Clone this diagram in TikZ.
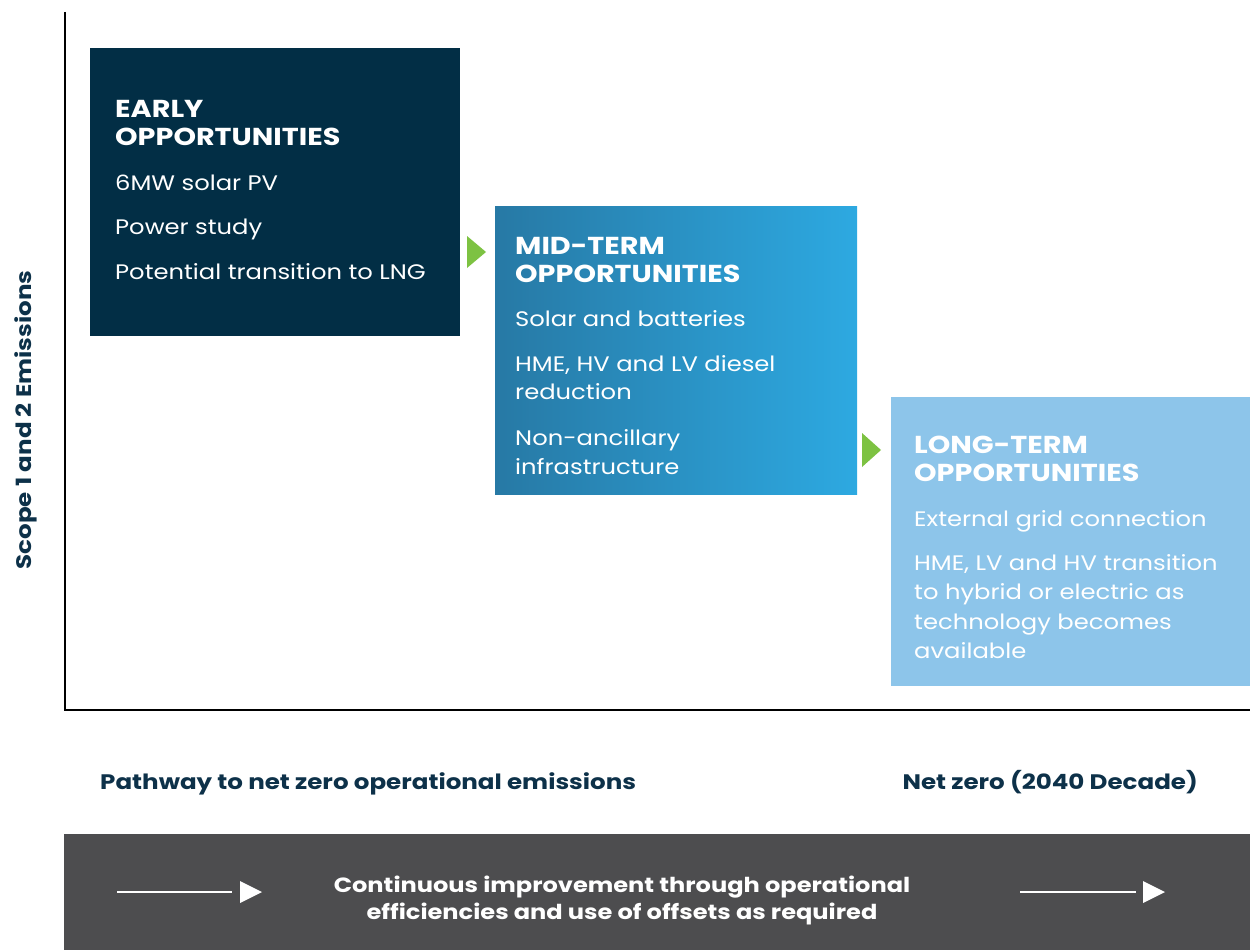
\documentclass[tikz,border=0pt]{standalone}
\usepackage{fontspec}
\setmainfont{Poppins}[FakeStretch=1.155, BoldFeatures={FakeStretch=1.17}]
\usetikzlibrary{calc}
\definecolor{navy}{HTML}{022E45}
\definecolor{midL}{HTML}{2779A5}
\definecolor{midR}{HTML}{2DA9E1}
\definecolor{lightb}{HTML}{8DC5EA}
\definecolor{arrowgreen}{HTML}{7DC242}
\definecolor{barGray}{HTML}{4D4D4F}
\definecolor{labelNavy}{HTML}{0D3149}
\tikzset{
  head/.style={anchor=base west, inner sep=0pt, text=white, font=\fontsize{24.5}{28}\selectfont\bfseries},
  item/.style={anchor=base west, inner sep=0pt, text=white, font=\fontsize{21}{29}\selectfont},
  axislabel/.style={inner sep=0pt, text=labelNavy, font=\fontsize{21}{26}\selectfont\bfseries},
  greentri/.style={fill=arrowgreen},
  whiteline/.style={draw=white, line width=2.5pt},
}
\begin{document}
\begin{tikzpicture}[x=1pt,y=-1pt]
\useasboundingbox (0,0) rectangle (1250,950);
% axes
\coordinate (ytop) at (65,12);
\coordinate (origin) at (65,710);
\coordinate (xend) at (1250,710);
\draw[line width=2pt, black] (ytop) -- (origin) -- (xend);
% boxes
\fill[navy] (90,48) rectangle (460,336);
\shade[left color=midL, right color=midR] (495,206) rectangle (857,494);
\fill[lightb] (891,397) rectangle (1250,686);
% green triangles
\fill[greentri] (467,236) -- (486,252) -- (467,268) -- cycle;
\fill[greentri] (862,433) -- (881,450) -- (862,467) -- cycle;
% box 1 text
\node[head] (h1a) at (115,117) {EARLY};
\node[head] (h1b) at (115,145) {OPPORTUNITIES};
\node[item] (i1a) at (115,190) {6MW solar PV};
\node[item] (i1b) at (115,234) {Power study};
\node[item] (i1c) at (115,279) {Potential transition to LNG};
% box 2 text
\node[head] (h2a) at (515,254) {MID-TERM};
\node[head] (h2b) at (515,282) {OPPORTUNITIES};
\node[item] (i2a) at (515,326) {Solar and batteries};
\node[item] (i2b) at (515,371) {HME, HV and LV diesel};
\node[item] (i2c) at (515,399) {reduction};
\node[item] (i2d) at (515,445) {Non-ancillary};
\node[item] (i2e) at (515,474) {infrastructure};
% box 3 text
\node[head] (h3a) at (914,453) {LONG-TERM};
\node[head] (h3b) at (914,481) {OPPORTUNITIES};
\node[item] (i3a) at (914,526) {External grid connection};
\node[item] (i3b) at (914,570) {HME, LV and HV transition};
\node[item] (i3c) at (914,599) {to hybrid or electric as};
\node[item] (i3d) at (914,629) {technology becomes};
\node[item] (i3e) at (914,658) {available};
% axis labels
\node[axislabel, rotate=90, anchor=base] (ylab) at (31,420) {Scope 1 and 2 Emissions};
\node[axislabel, anchor=base west] (xlab) at (100,789) {Pathway to net zero operational emissions};
\node[axislabel, anchor=base east] (nz) at (1198,789) {Net zero (2040 Decade)};
% bottom bar
\fill[barGray] (64,834) rectangle (1250,950);
\coordinate (la) at (117,892);
\coordinate (lb) at (232,892);
\draw[whiteline] (la) -- (lb);
\fill[white] (240,881) -- (262,892) -- (240,903) -- cycle;
\coordinate (ra) at (1020,892);
\coordinate (rb) at (1136,892);
\draw[whiteline] (ra) -- (rb);
\fill[white] (1143,881) -- (1165,892) -- (1143,903) -- cycle;
\node[inner sep=0pt, text=white, align=center, font=\fontsize{20.6}{27}\selectfont\bfseries, anchor=center] (ci) at (622,900.5) {Continuous improvement through operational\\efficiencies and use of offsets as required};
\end{tikzpicture}
\end{document}
